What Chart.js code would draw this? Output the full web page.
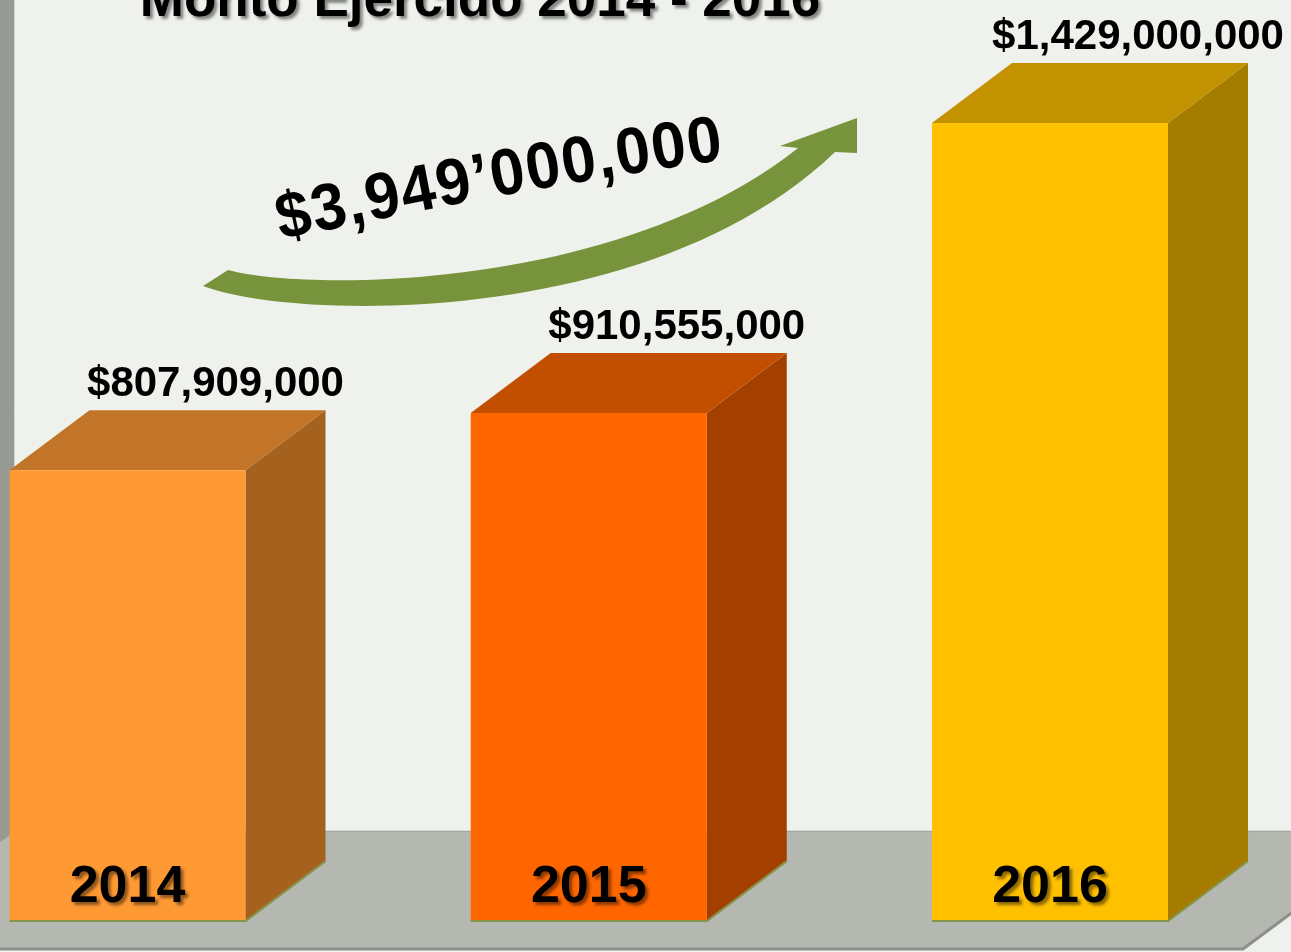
<!DOCTYPE html>
<html>
<head>
<meta charset="utf-8">
<script src="https://cdn.jsdelivr.net/npm/chart.js@4.4.1/dist/chart.umd.min.js"></script>
<style>
  html, body { margin: 0; padding: 0; background: #eff2ec; overflow: hidden; }
  canvas { display: block; }
</style>
</head>
<body>
<canvas id="c" width="1291" height="952"></canvas>
<script>
// Ejercicio presupuestal por año
const years = ['2014', '2015', '2016'];
const amounts = [807909000, 910555000, 1429000000];
const totalLabel = '$3,949\u2019000,000';
const chartTitle = 'Monto Ejercido 2014 - 2016';
const axisMax = 1649000000;

// Colores de cada cara de las barras
const frontColors = ['#ff9933', '#ff6600', '#ffc000'];
const topColors = ['#c27428', '#c24e00', '#c29200'];
const sideColors = ['#a5621f', '#a34000', '#a47c00'];

const FONT = '"Liberation Sans", Arial, sans-serif';
const DEPTH_X = 80, DEPTH_Y = -60;

function money(v) {
  return '$' + v.toLocaleString('en-US');
}

const scene = {
  id: 'scene3d',
  beforeDraw(chart) {
    const ctx = chart.ctx;
    const W = chart.width;
    const base = chart.scales.y.getPixelForValue(0);
    ctx.save();
    ctx.fillStyle = '#eff2ec';
    ctx.fillRect(0, 0, W, chart.height);

    // piso
    const fTop = base - 91, fBot = base + 28;
    const brX = W - 48;
    const trX = brX + (fBot - fTop) * (DEPTH_X / -DEPTH_Y);
    ctx.beginPath();
    ctx.moveTo(0, fTop);
    ctx.lineTo(trX, fTop);
    ctx.lineTo(brX, fBot);
    ctx.lineTo(0, fBot);
    ctx.closePath();
    ctx.fillStyle = '#b5b8b0';
    ctx.fill();
    ctx.strokeStyle = '#a3a69e';
    ctx.lineWidth = 1.5;
    ctx.beginPath();
    ctx.moveTo(0, fTop + 0.5);
    ctx.lineTo(trX, fTop + 0.5);
    ctx.stroke();
    ctx.strokeStyle = '#8d908a';
    ctx.lineWidth = 3;
    ctx.beginPath();
    ctx.moveTo(0, fBot - 1);
    ctx.lineTo(brX, fBot - 1);
    ctx.lineTo(trX, fTop);
    ctx.stroke();

    // pared izquierda
    ctx.fillStyle = '#979a92';
    ctx.beginPath();
    ctx.moveTo(0, 0);
    ctx.lineTo(14, 0);
    ctx.lineTo(14, fTop + 1);
    ctx.lineTo(0, fTop + 11);
    ctx.closePath();
    ctx.fill();
    ctx.strokeStyle = '#d2d5ce';
    ctx.lineWidth = 1;
    ctx.beginPath();
    ctx.moveTo(14.5, 0);
    ctx.lineTo(14.5, fTop);
    ctx.stroke();
    ctx.restore();
  },
  beforeDatasetsDraw(chart) {
    const ctx = chart.ctx;
    const meta = chart.getDatasetMeta(0);
    ctx.save();
    meta.data.forEach((bar, i) => {
      const l = bar.x - bar.width / 2, r = bar.x + bar.width / 2;
      const t = bar.y, b = bar.base;
      // cara lateral
      ctx.fillStyle = sideColors[i];
      ctx.beginPath();
      ctx.moveTo(r, t);
      ctx.lineTo(r + DEPTH_X, t + DEPTH_Y);
      ctx.lineTo(r + DEPTH_X, b + DEPTH_Y);
      ctx.lineTo(r, b);
      ctx.closePath();
      ctx.fill();
      // cara superior
      ctx.fillStyle = topColors[i];
      ctx.beginPath();
      ctx.moveTo(l, t);
      ctx.lineTo(l + DEPTH_X, t + DEPTH_Y);
      ctx.lineTo(r + DEPTH_X, t + DEPTH_Y);
      ctx.lineTo(r, t);
      ctx.closePath();
      ctx.fill();
    });
    ctx.restore();
  },
  afterDatasetsDraw(chart) {
    const ctx = chart.ctx;
    const meta = chart.getDatasetMeta(0);
    ctx.save();

    meta.data.forEach((bar, i) => {
      const l = bar.x - bar.width / 2, r = bar.x + bar.width / 2;
      const t = bar.y, b = bar.base;
      // borde inferior
      ctx.strokeStyle = '#84944a';
      ctx.lineWidth = 2;
      ctx.beginPath();
      ctx.moveTo(l, b - 1);
      ctx.lineTo(r, b - 1);
      ctx.lineTo(r + DEPTH_X, b + DEPTH_Y - 1);
      ctx.stroke();

      // monto sobre la barra
      ctx.fillStyle = '#000';
      ctx.font = 'bold 42px ' + FONT;
      ctx.textAlign = 'center';
      ctx.textBaseline = 'alphabetic';
      ctx.fillText(money(amounts[i]), bar.x + 88, t + DEPTH_Y - 14);

      // año dentro de la barra
      ctx.save();
      ctx.shadowColor = 'rgba(0,0,0,0.45)';
      ctx.shadowOffsetX = 3;
      ctx.shadowOffsetY = 3;
      ctx.shadowBlur = 3;
      ctx.font = 'bold 52px ' + FONT;
      ctx.fillText(years[i], bar.x, b - 20);
      ctx.restore();
    });

    // flecha de crecimiento
    ctx.fillStyle = '#77933c';
    ctx.beginPath();
    ctx.moveTo(228, 270);
    ctx.bezierCurveTo(310, 292, 620, 290, 798, 148);
    ctx.lineTo(780, 146);
    ctx.lineTo(857, 118);
    ctx.lineTo(857, 153);
    ctx.lineTo(835, 152);
    ctx.bezierCurveTo(650, 330, 290, 320, 203, 286);
    ctx.closePath();
    ctx.fill();

    // total del periodo, en arco suave
    ctx.save();
    ctx.font = 'bold 62px ' + FONT;
    ctx.fillStyle = '#000';
    ctx.textAlign = 'left';
    ctx.textBaseline = 'alphabetic';
    const gap = 1.5;
    const chars = Array.from(totalLabel);
    const widths = chars.map(ch => ctx.measureText(ch).width);
    const total = widths.reduce((a, w) => a + w, 0) + gap * (chars.length - 1);
    const a0 = -12.5 * Math.PI / 180, a1 = -8 * Math.PI / 180;
    let x = 281, y = 240, s = 0;
    chars.forEach((ch, k) => {
      const ang = a0 + (a1 - a0) * ((s + widths[k] / 2) / total);
      ctx.save();
      ctx.translate(x, y);
      ctx.rotate(ang);
      ctx.scale(1, 1.06);
      ctx.fillText(ch, 0, 0);
      ctx.restore();
      const adv = widths[k] + gap;
      x += adv * Math.cos(ang);
      y += adv * Math.sin(ang);
      s += adv;
    });
    ctx.restore();

    // título
    ctx.save();
    ctx.shadowColor = 'rgba(0,0,0,0.45)';
    ctx.shadowOffsetX = 3;
    ctx.shadowOffsetY = 3;
    ctx.shadowBlur = 3;
    ctx.font = 'bold 53px ' + FONT;
    ctx.fillStyle = '#000';
    ctx.textAlign = 'center';
    ctx.fillText(chartTitle, 480, 16);
    ctx.restore();

    ctx.restore();
  }
};

new Chart(document.getElementById('c'), {
  type: 'bar',
  data: {
    labels: years,
    datasets: [{
      data: amounts,
      backgroundColor: frontColors,
      borderWidth: 0,
      categoryPercentage: 0.5117,
      barPercentage: 1,
      clip: false
    }]
  },
  options: {
    responsive: false,
    animation: false,
    devicePixelRatio: 1,
    layout: { padding: { left: 127.5, right: 241, top: 0, bottom: 30 } },
    plugins: { legend: { display: false }, tooltip: { enabled: false }, title: { display: false } },
    scales: {
      x: { display: false, offset: false, grid: { display: false } },
      y: { display: false, min: 0, max: axisMax, grid: { display: false } }
    }
  },
  plugins: [scene]
});
</script>
</body>
</html>
